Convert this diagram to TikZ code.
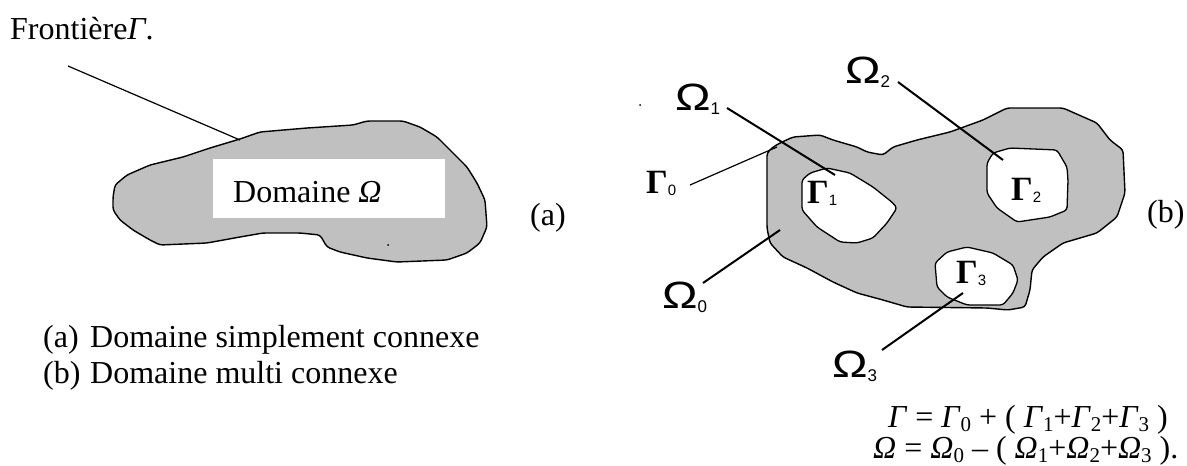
\documentclass[tikz,border=0pt]{standalone}
\usepackage{fontspec}
\setmainfont{Liberation Serif}
\newfontfamily\lsans{Liberation Sans}
\newcommand\sbs[1]{\raisebox{-0.14em}{\fontsize{21}{21}\selectfont #1}}
\newcommand\bigOm[1]{{\lsans\fontsize{38}{38}\selectfont\scalebox{1.25}[1]{Ω}}\raisebox{-0.45em}{\lsans\fontsize{17}{17}\selectfont #1}}
\newcommand\bigGa[1]{{\fontsize{34}{34}\selectfont\bfseries Γ}\raisebox{-0.2em}{\lsans\fontsize{15}{15}\selectfont #1}}
\begin{document}
\begin{tikzpicture}[x=1pt,y=-1pt,
  txt/.style={anchor=base west,inner sep=0pt,font=\fontsize{32}{38}\selectfont},
  lab/.style={anchor=base west,inner sep=0pt},
  region/.style={fill={rgb,255:red,192;green,192;blue,192},draw=black,line width=1.4pt,line join=round,rounded corners=3pt},
  hole/.style={fill=white,draw=black,line width=1.3pt,line join=round,rounded corners=3pt},
  lead/.style={draw=black,line width=2pt},
  thinlead/.style={draw=black,line width=1.2pt}]
\useasboundingbox (0,0) rectangle (1187,466);

% ---------- (a) ----------
\node[txt] (front) at (10,39) {Frontière\textit{Γ}.};
\path[region] (115,185) -- (127,175) -- (150,165) -- (183,157) -- (210,148) -- (240,139)
  -- (260,132) -- (307,128) -- (353,125) -- (367,121) -- (403,121) -- (420,127)
  -- (437,137) -- (453,153) -- (467,167) -- (477,183) -- (485,200) -- (487,227)
  -- (480,243) -- (467,253) -- (447,260) -- (397,262) -- (367,258) -- (340,252)
  -- (327,247) -- (320,235) -- (300,233) -- (263,233) -- (240,237) -- (207,243)
  -- (160,245) -- (150,240) -- (133,230) -- (120,220) -- (113,210) -- (113,197) -- cycle;
\fill[white] (213,159) rectangle (445,218);
\node[txt] (doma) at (233,202) {Domaine \textit{Ω}};
\fill (388,245) circle (1pt);
\coordinate (frontS) at (68,66);
\coordinate (frontE) at (240,140);
\draw[thinlead] (frontS) -- (frontE);
\node[txt] (la) at (530,225) {(a)};

\node[txt] (capa) at (43,347) {(a)};
\node[txt] (capa2) at (90,347) {Domaine simplement connexe};
\node[txt] (capb) at (43,383) {(b)};
\node[txt] (capb2) at (90,383) {Domaine multi connexe};

% ---------- (b) ----------
\path[region] (767,153) -- (773,147) -- (780,143) -- (793,137) -- (820,135) -- (833,140)
  -- (857,147) -- (867,152) -- (883,155) -- (893,147) -- (917,140) -- (950,132)
  -- (983,120) -- (1007,108) -- (1063,108) -- (1097,123) -- (1110,140) -- (1123,150)
  -- (1125,193) -- (1117,217) -- (1097,233) -- (1063,243) -- (1043,257) -- (1032,270)
  -- (1030,290) -- (1025,307) -- (1008,310) -- (987,308) -- (907,307) -- (883,300)
  -- (857,293) -- (833,282) -- (807,268) -- (783,257) -- (770,243) -- (767,228) -- cycle;
% holes
\path[hole] (802,180) -- (810,173) -- (827,168) -- (850,173) -- (873,187) -- (893,203)
  -- (897,208) -- (887,223) -- (873,238) -- (857,243) -- (840,242) -- (817,227) -- (802,210) -- cycle;
\path[hole] (987,163) -- (993,153) -- (1010,148) -- (1057,150) -- (1067,167) -- (1068,180)
  -- (1067,210) -- (1050,217) -- (1017,222) -- (997,208) -- (987,193) -- cycle;
\path[hole] (935,263) -- (947,252) -- (967,247) -- (993,253) -- (1013,265) -- (1018,280)
  -- (1013,293) -- (1003,305) -- (967,305) -- (947,297) -- (937,287) -- cycle;

% Gamma labels
\node[lab] (g0) at (646,193) {\bigGa{0}};
\node[lab] (g1) at (807,203) {\bigGa{1}};
\node[lab] (g2) at (1011,200) {\bigGa{2}};
\node[lab] (g3) at (956,283) {\bigGa{3}};

% Omega labels
\node[lab] (o1) at (675,110) {\bigOm{1}};
\node[lab] (o2) at (845,83) {\bigOm{2}};
\node[lab] (o0) at (662,308) {\bigOm{0}};
\node[lab] (o3) at (832,377) {\bigOm{3}};

\coordinate (o1s) at (727,108);  \coordinate (o1e) at (835,175);
\coordinate (o2s) at (898,82);   \coordinate (o2e) at (1003,160);
\coordinate (g0s) at (690,185);  \coordinate (g0e) at (777,147);
\coordinate (o0s) at (703,283);  \coordinate (o0e) at (780,230);
\coordinate (o3s) at (882,350);  \coordinate (o3e) at (963,293);
\draw[lead] (o1s) -- (o1e);
\draw[lead] (o2s) -- (o2e);
\draw[thinlead] (g0s) -- (g0e);
\draw[lead] (o0s) -- (o0e);
\draw[lead] (o3s) -- (o3e);
\fill (640,105) circle (1pt);

\node[txt] (lb) at (1147,222) {(b)};

\node[txt] (eq1) at (888,427) {\textit{Γ} = \textit{Γ}\sbs{0} + ( \textit{Γ}\sbs{1}+\textit{Γ}\sbs{2}+\textit{Γ}\sbs{3} )};
\node[txt] (eq2) at (873,458) {\textit{Ω} = \textit{Ω}\sbs{0} – ( \textit{Ω}\sbs{1}+\textit{Ω}\sbs{2}+\textit{Ω}\sbs{3} ).};
\end{tikzpicture}
\end{document}
